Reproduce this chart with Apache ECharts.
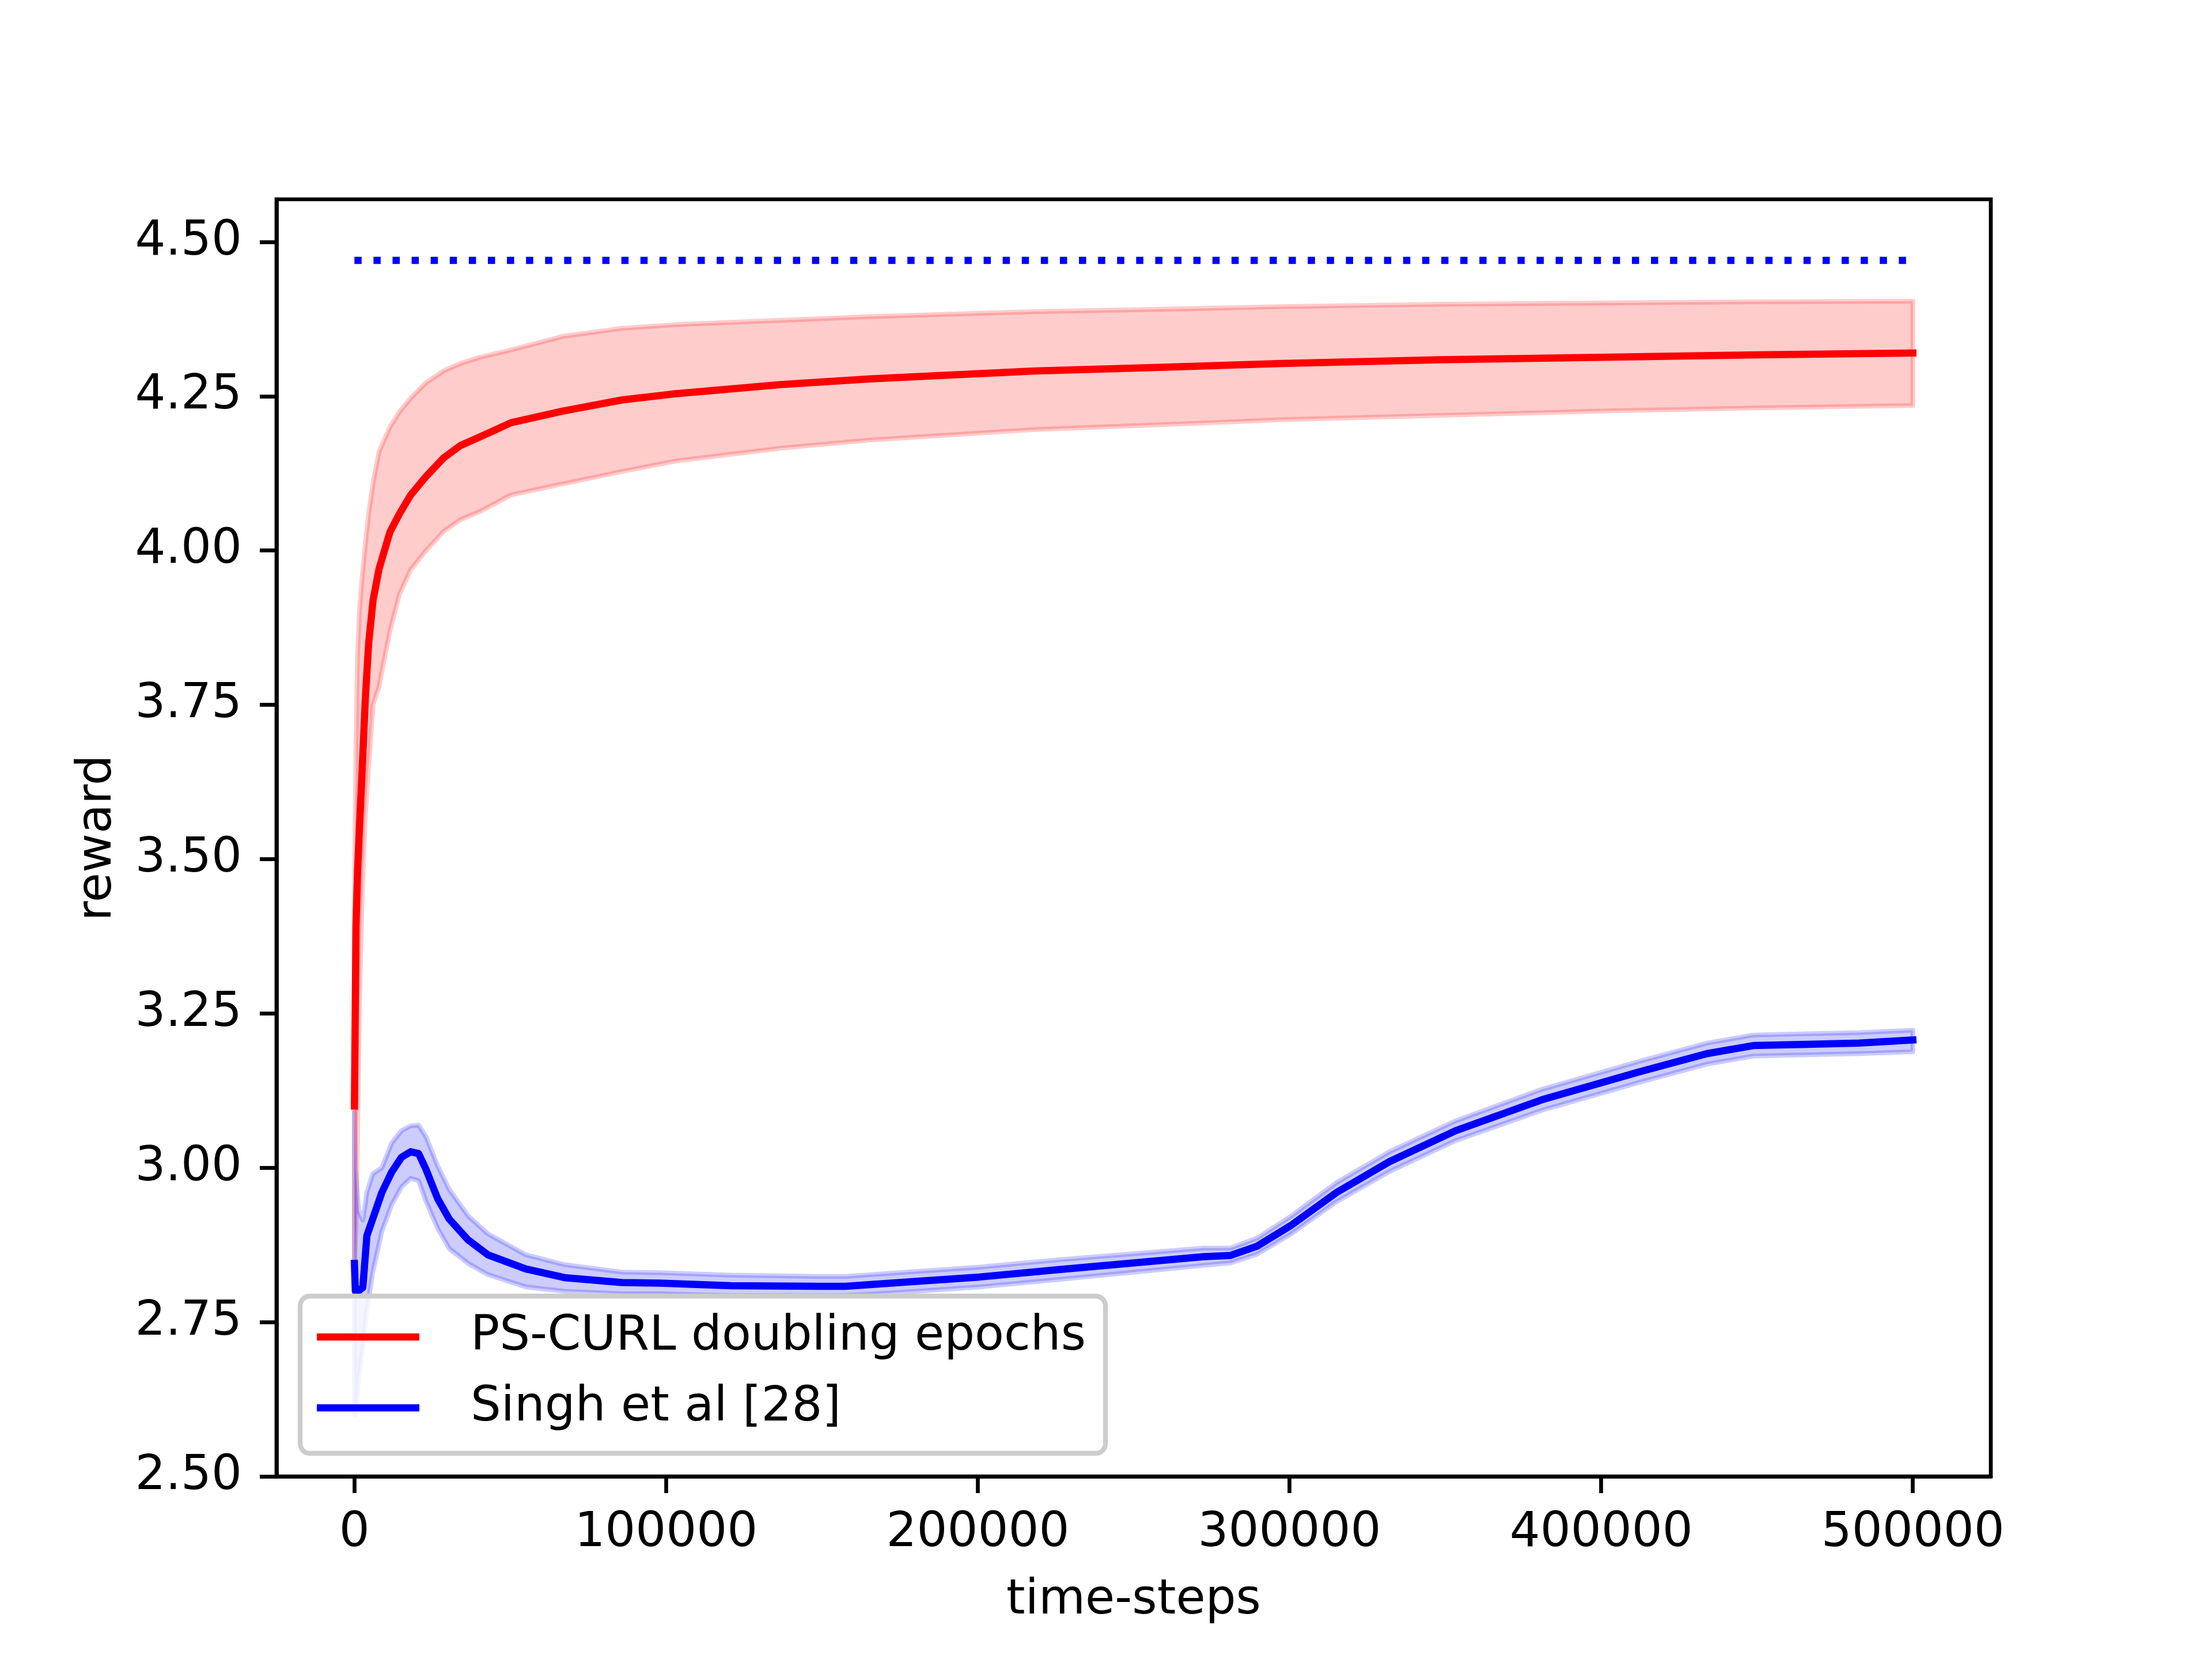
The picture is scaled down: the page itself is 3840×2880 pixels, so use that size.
<!DOCTYPE html>
<html><head><meta charset="utf-8">
<script src="https://cdn.jsdelivr.net/npm/echarts@6/dist/echarts.min.js"></script>
<style>html,body{margin:0;padding:0;background:#fff}#c{width:3840px;height:2880px}</style>
</head><body><div id="c"></div>
<script>
// ---- data ----
const redX     = [0, 200, 500, 1000, 1600, 2350, 3500, 4570, 6000, 7890, 11400, 14500, 18060, 23000, 28600, 34000, 40250, 50230, 66860, 85900, 103100, 137100, 165400, 218300, 259700, 297400, 348400, 400000, 450000, 500000];
const redMean  = [3.10, 3.22, 3.39, 3.48, 3.55, 3.63, 3.76, 3.85, 3.92, 3.97, 4.03, 4.06, 4.09, 4.12, 4.15, 4.17, 4.184, 4.207, 4.226, 4.244, 4.254, 4.269, 4.278, 4.291, 4.297, 4.303, 4.309, 4.313, 4.317, 4.320];
const redLower = [2.84, 2.87, 2.90, 3.05, 3.26, 3.42, 3.57, 3.65, 3.75, 3.78, 3.87, 3.93, 3.969, 4.00, 4.031, 4.05, 4.063, 4.09, 4.108, 4.128, 4.145, 4.166, 4.179, 4.196, 4.204, 4.212, 4.219, 4.226, 4.231, 4.235];
const redUpper = [3.36, 3.55, 3.68, 3.83, 3.90, 3.95, 4.01, 4.06, 4.11, 4.16, 4.20, 4.225, 4.247, 4.272, 4.291, 4.303, 4.313, 4.325, 4.347, 4.360, 4.366, 4.373, 4.379, 4.387, 4.391, 4.395, 4.399, 4.401, 4.403, 4.404];

const blueX     = [0, 300, 1400, 2700, 4000, 5860, 8800, 11950, 15100, 18060, 20600, 23000, 26700, 30400, 36500, 42800, 55000, 67400, 85900, 98100, 120800, 149100, 157600, 177400, 200500, 226000, 272600, 281100, 289600, 300300, 315100, 332100, 353300, 380900, 412700, 434000, 448800, 465800, 482800, 500000];
const blueMean  = [2.845, 2.800, 2.801, 2.806, 2.890, 2.917, 2.960, 2.993, 3.017, 3.026, 3.023, 2.997, 2.950, 2.917, 2.883, 2.859, 2.836, 2.822, 2.814, 2.813, 2.809, 2.808, 2.808, 2.815, 2.823, 2.835, 2.856, 2.858, 2.873, 2.906, 2.960, 3.010, 3.060, 3.110, 3.156, 3.185, 3.198, 3.200, 3.202, 3.207];
const blueLower = [2.60, 2.60, 2.66, 2.71, 2.77, 2.83, 2.897, 2.940, 2.969, 2.983, 2.979, 2.945, 2.902, 2.869, 2.845, 2.827, 2.807, 2.800, 2.796, 2.796, 2.793, 2.793, 2.793, 2.799, 2.807, 2.819, 2.842, 2.846, 2.860, 2.892, 2.945, 2.994, 3.044, 3.093, 3.139, 3.168, 3.181, 3.183, 3.185, 3.188];
const blueUpper = [3.09, 3.00, 2.93, 2.915, 2.96, 2.99, 3.00, 3.040, 3.060, 3.068, 3.069, 3.050, 3.003, 2.965, 2.922, 2.893, 2.859, 2.843, 2.831, 2.830, 2.826, 2.824, 2.824, 2.831, 2.839, 2.851, 2.870, 2.870, 2.886, 2.921, 2.976, 3.026, 3.076, 3.127, 3.173, 3.202, 3.215, 3.217, 3.219, 3.223];

const targetX = [0, 500000];
const targetY = 4.47;

const xTicks = [0, 100000, 200000, 300000, 400000, 500000];
const yTicks = [2.50, 2.75, 3.00, 3.25, 3.50, 3.75, 4.00, 4.25, 4.50];

const redName = 'PS-CURL doubling epochs';
const blueName = 'Singh et al [28]';

// ---- build ----
const pairs = (xs, ys) => xs.map((x, i) => [x, ys[i]]);
const FONT = 'DejaVu Sans';
const FS = 83.3;

function band(xs, lo, hi, rgba, key) {
  return {
    type: 'custom', name: key, silent: true, z: 2, clip: true,
    data: [[xs[0], lo[0]]],
    renderItem: function (params, api) {
      const top = xs.map((x, i) => api.coord([x, hi[i]]));
      const bot = xs.map((x, i) => api.coord([x, lo[i]])).reverse();
      return {
        type: 'polygon', shape: {points: top.concat(bot)},
        style: {fill: rgba, stroke: rgba, lineWidth: 8.3, lineJoin: 'round'}
      };
    }
  };
}

const series = [
  band(redX, redLower, redUpper, 'rgba(255,0,0,0.2)', 'rb'),
  {type: 'line', name: redName, data: pairs(redX, redMean), symbol: 'none', color: '#ff0000', z: 3,
   lineStyle: {color: '#ff0000', width: 12.5, cap: 'square', join: 'round'}},
  band(blueX, blueLower, blueUpper, 'rgba(0,0,255,0.2)', 'bb'),
  {type: 'line', name: blueName, data: pairs(blueX, blueMean), symbol: 'none', color: '#0000ff', z: 3,
   lineStyle: {color: '#0000ff', width: 12.5, cap: 'square', join: 'round'}},
  {type: 'line', name: 'target', data: targetX.map(x => [x, targetY]), symbol: 'none', z: 3,
   lineStyle: {color: '#0000ff', width: 12.5, type: [12.5, 20.6], cap: 'butt'}}
];

const chart = echarts.init(document.getElementById('c'), null, {renderer: 'canvas'});
chart.setOption({
  animation: false,
  backgroundColor: '#ffffff',
  textStyle: {fontFamily: FONT},
  grid: {left: 480, top: 346, right: 384, bottom: 317, show: true, borderColor: '#000', borderWidth: 6.7,
         backgroundColor: 'transparent', containLabel: false, outerBoundsMode: 'none'},
  legend: {
    show: true, orient: 'vertical', left: 521, top: 2250,
    data: [{name: redName}, {name: blueName}],
    icon: 'rect', itemWidth: 178, itemHeight: 12.5, itemGap: 23,
    padding: [21, 34, 29, 29],
    backgroundColor: 'rgba(255,255,255,0.8)', borderColor: '#cccccc', borderWidth: 8.3, borderRadius: 17,
    textStyle: {fontFamily: FONT, fontSize: FS, color: '#000', lineHeight: 100, padding: [0, 0, 0, 84]},
    selectedMode: false
  },
  xAxis: {
    type: 'value', min: -25000, max: 525000,
    name: 'time-steps', nameLocation: 'middle', nameGap: 175,
    nameTextStyle: {fontFamily: FONT, fontSize: FS, color: '#000'},
    axisLine: {show: true, onZero: false, lineStyle: {color: '#000', width: 6.7}},
    axisTick: {show: true, length: 29, lineStyle: {color: '#000', width: 6.7}, customValues: xTicks},
    axisLabel: {show: true, margin: 58, fontFamily: FONT, fontSize: FS, color: '#000', customValues: xTicks,
                formatter: v => String(v)},
    splitLine: {show: false}
  },
  yAxis: {
    type: 'value', min: 2.5, max: 4.569,
    name: 'reward', nameLocation: 'middle', nameGap: 268, nameRotate: 90,
    nameTextStyle: {fontFamily: FONT, fontSize: FS, color: '#000'},
    axisLine: {show: true, onZero: false, lineStyle: {color: '#000', width: 6.7}},
    axisTick: {show: true, length: 29, lineStyle: {color: '#000', width: 6.7}, customValues: yTicks},
    axisLabel: {show: true, margin: 60, fontFamily: FONT, fontSize: FS, color: '#000', customValues: yTicks,
                formatter: v => Number(v).toFixed(2)},
    splitLine: {show: false}
  },
  series: series
});
</script>
</body></html>
